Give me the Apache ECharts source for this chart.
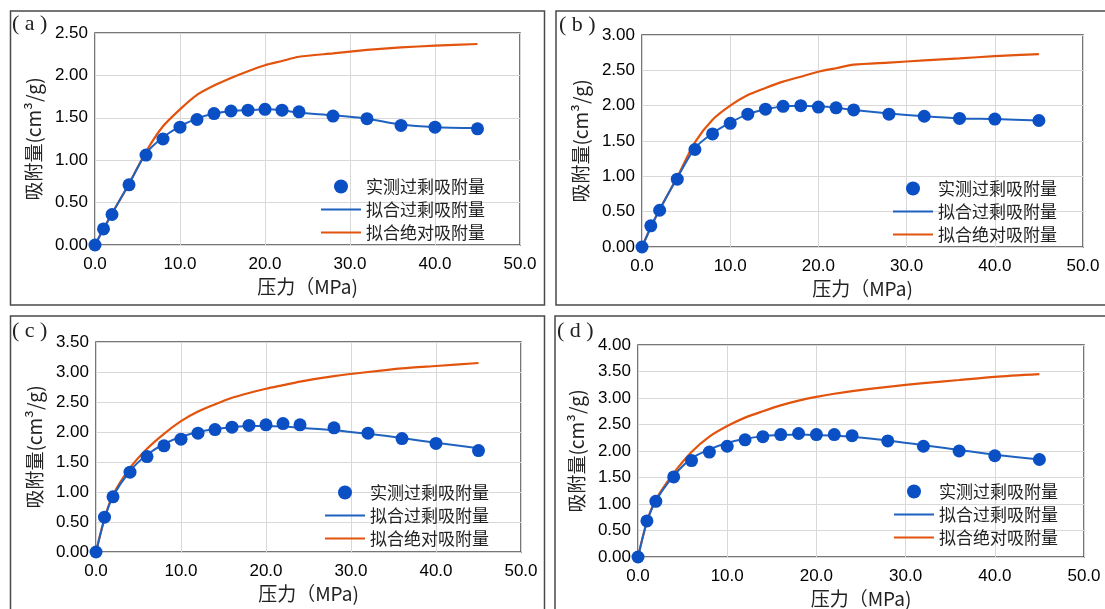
<!DOCTYPE html>
<html>
<head>
<meta charset="utf-8">
<script src="https://cdn.jsdelivr.net/npm/echarts@6/dist/echarts.min.js"></script>
<style>
html, body { margin: 0; background: #fff; }
#main { width: 1105px; height: 609px; }
</style>
</head>
<body>
<div id="main"></div>
<script>
// 压力 (MPa)
var pressure = [0, 1, 2, 4, 6, 8, 10, 12, 14, 16, 18, 20, 22, 24, 28, 32, 36, 40, 45];

// (a)
var measA = [0, 0.19, 0.36, 0.71, 1.06, 1.25, 1.39, 1.48, 1.55, 1.58, 1.59, 1.60, 1.59, 1.57, 1.52, 1.49, 1.41, 1.39, 1.37];
var fitExA = [0, 0.19, 0.37, 0.72, 1.08, 1.27, 1.40, 1.49, 1.55, 1.58, 1.59, 1.60, 1.59, 1.56, 1.53, 1.49, 1.42, 1.39, 1.38];
var fitAbsA = [0, 0.19, 0.37, 0.72, 1.10, 1.40, 1.60, 1.77, 1.88, 1.97, 2.05, 2.12, 2.17, 2.22, 2.26, 2.30, 2.33, 2.35, 2.37];
// (b)
var measB = [0, 0.30, 0.52, 0.96, 1.38, 1.60, 1.75, 1.88, 1.95, 1.99, 2.00, 1.98, 1.97, 1.94, 1.88, 1.85, 1.82, 1.81, 1.79];
var fitExB = [0, 0.28, 0.53, 0.98, 1.40, 1.61, 1.76, 1.88, 1.95, 1.99, 2.00, 1.99, 1.97, 1.94, 1.89, 1.85, 1.82, 1.81, 1.79];
var fitAbsB = [0, 0.28, 0.53, 0.99, 1.48, 1.80, 2.00, 2.15, 2.25, 2.34, 2.41, 2.48, 2.53, 2.58, 2.61, 2.64, 2.67, 2.70, 2.73];
// (c)
var measC = [0, 0.58, 0.92, 1.33, 1.59, 1.77, 1.88, 1.98, 2.04, 2.08, 2.11, 2.12, 2.14, 2.12, 2.07, 1.98, 1.89, 1.81, 1.69];
var fitExC = [0, 0.55, 0.93, 1.35, 1.62, 1.80, 1.92, 2.00, 2.05, 2.08, 2.10, 2.10, 2.09, 2.07, 2.03, 1.97, 1.90, 1.82, 1.73];
var fitAbsC = [0, 0.56, 0.95, 1.40, 1.72, 1.97, 2.18, 2.34, 2.46, 2.57, 2.65, 2.72, 2.78, 2.84, 2.93, 3.00, 3.06, 3.10, 3.15];
// (d)
var measD = [0, 0.68, 1.05, 1.51, 1.82, 1.98, 2.09, 2.21, 2.27, 2.31, 2.33, 2.31, 2.31, 2.29, 2.19, 2.09, 2.00, 1.91, 1.84];
var fitExD = [0, 0.66, 1.06, 1.53, 1.86, 2.03, 2.15, 2.23, 2.28, 2.30, 2.31, 2.30, 2.29, 2.27, 2.20, 2.11, 2.02, 1.93, 1.84];
var fitAbsD = [0, 0.67, 1.08, 1.58, 1.98, 2.27, 2.47, 2.63, 2.75, 2.86, 2.95, 3.02, 3.08, 3.13, 3.21, 3.28, 3.34, 3.40, 3.45];

var yMaxList = [2.5, 3.0, 3.5, 4.0];
var panelTags = ['( a )', '( b )', '( c )', '( d )'];
var seriesNames = ['实测过剩吸附量', '拟合过剩吸附量', '拟合绝对吸附量'];

var sansFont = 'Arial, "Liberation Sans", sans-serif';
var cjkFont = '"Noto Sans CJK SC", sans-serif';

var panels = [
    {meas: measA, fitEx: fitExA, fitAbs: fitAbsA, grid: {left: 95, top: 33, width: 425, height: 212}, legend: {left: 320, top: 178}, tag: [12, 26], box: [10.5, 11, 534, 294]},
    {meas: measB, fitEx: fitExB, fitAbs: fitAbsB, grid: {left: 642, top: 35, width: 441, height: 212}, legend: {left: 892, top: 180}, tag: [559, 27], box: [556, 11, 560, 294]},
    {meas: measC, fitEx: fitExC, fitAbs: fitAbsC, grid: {left: 96, top: 342, width: 425, height: 210}, legend: {left: 324, top: 484}, tag: [12, 333], box: [10.5, 316, 534, 310]},
    {meas: measD, fitEx: fitExD, fitAbs: fitAbsD, grid: {left: 638, top: 345, width: 446, height: 212}, legend: {left: 893, top: 483}, tag: [557, 333], box: [555, 316, 560, 310]}
];

function pairs(ys) {
    return pressure.map(function (p, i) { return [p, ys[i]]; });
}

var option = {
    animation: false,
    backgroundColor: '#fff',
    grid: [], xAxis: [], yAxis: [], series: [], legend: [], graphic: []
};

panels.forEach(function (pn, k) {
    option.grid.push(Object.assign({show: true, borderColor: '#4a4a4a', borderWidth: 1.5, outerBoundsMode: 'none'}, pn.grid));
    option.xAxis.push({
        type: 'value', gridIndex: k, min: 0, max: 50, interval: 10,
        name: '压力（MPa)', nameLocation: 'middle', nameGap: 32,
        nameTextStyle: {fontFamily: cjkFont, fontSize: 19, color: '#222'},
        axisLine: {show: false}, axisTick: {show: false},
        axisLabel: {fontFamily: sansFont, fontSize: 17, color: '#000', margin: 11,
            formatter: function (v) { return v.toFixed(1); }},
        splitLine: {lineStyle: {color: '#d8d8d8', width: 1}}
    });
    option.yAxis.push({
        type: 'value', gridIndex: k, min: 0, max: yMaxList[k], interval: 0.5,
        name: '吸附量(cm³/g)', nameLocation: 'middle', nameGap: 52,
        nameTextStyle: {fontFamily: cjkFont, fontSize: 19, color: '#222'},
        axisLine: {show: false}, axisTick: {show: false},
        axisLabel: {fontFamily: sansFont, fontSize: 17, color: '#000', margin: 7,
            formatter: function (v) { return v.toFixed(2); }},
        splitLine: {lineStyle: {color: '#d8d8d8', width: 1}}
    });
    option.series.push({
        name: seriesNames[2], type: 'line', xAxisIndex: k, yAxisIndex: k,
        data: pairs(pn.fitAbs), symbol: 'none', smooth: 0.25, z: 2,
        lineStyle: {color: '#E2540E', width: 2.2}, itemStyle: {color: '#E2540E'}
    });
    option.series.push({
        name: seriesNames[1], type: 'line', xAxisIndex: k, yAxisIndex: k,
        data: pairs(pn.fitEx), symbol: 'none', smooth: 0.25, z: 3,
        lineStyle: {color: '#1F62C0', width: 2}, itemStyle: {color: '#1F62C0'}
    });
    option.series.push({
        name: seriesNames[0], type: 'scatter', xAxisIndex: k, yAxisIndex: k,
        data: pairs(pn.meas), symbolSize: 13, z: 4,
        itemStyle: {color: '#0A4FC4', opacity: 1}
    });
    option.legend.push({
        orient: 'vertical', left: pn.legend.left, top: pn.legend.top, padding: 0,
        itemWidth: 40, itemHeight: 14, itemGap: 6, selectedMode: false,
        data: [
            {name: seriesNames[0], icon: 'circle'},
            {name: seriesNames[1], itemStyle: {opacity: 0}},
            {name: seriesNames[2], itemStyle: {opacity: 0}}
        ],
        textStyle: {fontFamily: cjkFont, fontSize: 17, lineHeight: 17, color: '#222'}
    });
    option.graphic.push({
        type: 'rect', silent: true, z: 0,
        shape: {x: pn.box[0], y: pn.box[1], width: pn.box[2], height: pn.box[3]},
        style: {fill: 'none', stroke: '#4a4a4a', lineWidth: 1.5}
    });
    option.graphic.push({
        type: 'text', silent: true, left: pn.tag[0], top: pn.tag[1] - 13,
        style: {text: panelTags[k], font: '22px "Liberation Serif", serif', fill: '#222'}
    });
});

var chart = echarts.init(document.getElementById('main'));
chart.setOption(option);
</script>
</body>
</html>
